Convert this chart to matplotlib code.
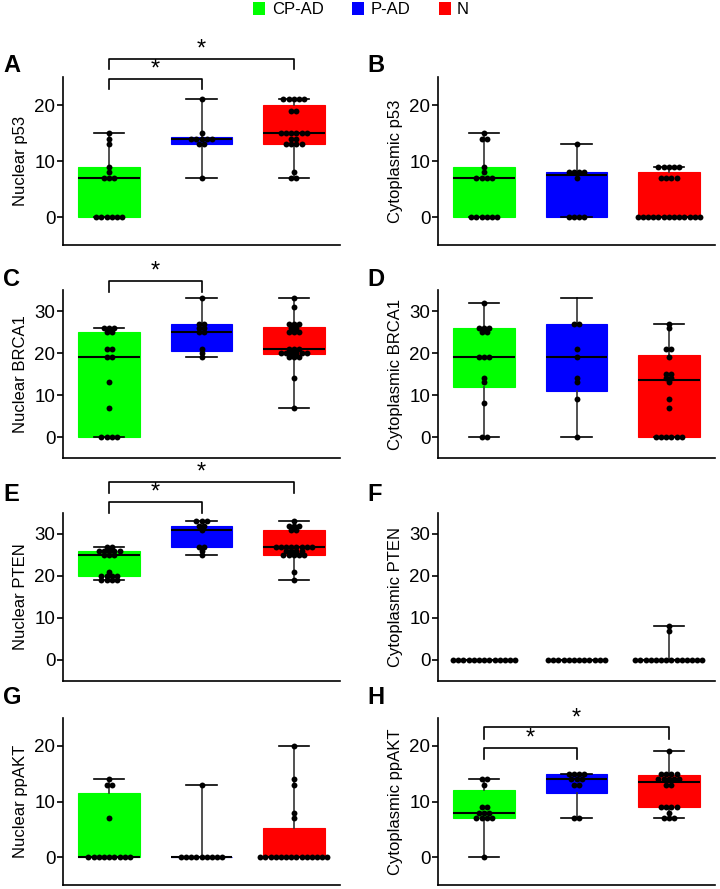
import matplotlib
matplotlib.use("Agg")
import matplotlib.pyplot as plt
from matplotlib.patches import Rectangle
import numpy as np

plt.rcParams['font.family'] = ['Liberation Sans', 'DejaVu Sans']

groups = ["CP-AD", "P-AD", "N"]
colors = ["#00ff00", "#0000ff", "#ff0000"]

# ---- data points per panel (green, blue, red) ----
A_pts = [
    [15, 14, 13, 9, 8, 7, 7, 7, 0, 0, 0, 0, 0, 0],
    [21, 15, 14, 14, 14, 14, 14, 13, 13, 7],
    [21, 21, 21, 21, 21, 19, 19, 15, 15, 15, 15, 15, 15, 14, 14, 13, 13, 13, 13, 8, 7, 7],
]
B_pts = [
    [15, 14, 14, 9, 8, 7, 7, 7, 7, 0, 0, 0, 0, 0, 0],
    [13, 8, 8, 8, 8, 7, 0, 0, 0, 0],
    [9, 9, 9, 9, 9, 7, 7, 7, 7, 0, 0, 0, 0, 0, 0, 0, 0, 0, 0, 0, 0, 0],
]
C_pts = [
    [26, 26, 26, 25, 25, 21, 21, 19, 19, 13, 7, 0, 0, 0, 0],
    [33, 27, 27, 26, 26, 25, 25, 21, 20, 19],
    [33, 31, 27, 27, 27, 26, 26, 25, 25, 25, 21, 21, 21, 20, 20, 20, 20, 20, 20, 19, 19, 19, 14, 7],
]
D_pts = [
    [32, 26, 26, 26, 25, 25, 19, 19, 19, 14, 13, 8, 0, 0],
    [27, 27, 21, 19, 14, 13, 9, 0],
    [27, 26, 21, 21, 19, 15, 15, 14, 14, 13, 9, 7, 0, 0, 0, 0, 0, 0],
]
E_pts = [
    [27, 27, 26, 26, 26, 26, 26, 25, 25, 25, 21, 20, 20, 20, 20, 19, 19, 19, 19],
    [33, 33, 33, 32, 32, 31, 27, 27, 26, 25],
    [33, 32, 32, 32, 31, 31, 27, 27, 27, 27, 27, 27, 27, 27, 26, 26, 26, 26,
     25, 25, 25, 25, 25, 21, 19],
]
F_pts = [
    [0, 0, 0, 0, 0, 0, 0, 0, 0, 0, 0, 0, 0],
    [0, 0, 0, 0, 0, 0, 0, 0, 0, 0, 0, 0],
    [8, 7, 0, 0, 0, 0, 0, 0, 0, 0, 0, 0, 0, 0, 0, 0],
]
G_pts = [
    [14, 13, 13, 7, 0, 0, 0, 0, 0, 0, 0, 0, 0],
    [13, 0, 0, 0, 0, 0, 0, 0, 0, 0],
    [20, 14, 13, 8, 7, 0, 0, 0, 0, 0, 0, 0, 0, 0, 0, 0, 0, 0, 0],
]
H_pts = [
    [14, 14, 13, 9, 9, 8, 8, 8, 7, 7, 7, 7, 0],
    [15, 15, 15, 15, 14, 14, 14, 13, 13, 7, 7],
    [19, 15, 15, 15, 15, 14, 14, 14, 14, 14, 13, 13, 9, 9, 9, 9, 8, 7, 7, 7],
]

# ---- box statistics per panel: (q1, median, q3, min, max) ----
A_box = [(0, 7, 9, 0, 15), (13, 14, 14.25, 7, 21), (13, 15, 20, 7, 21)]
B_box = [(0, 7, 9, 0, 15), (0, 7.5, 8, 0, 13), (0, 0, 8, 0, 9)]
C_box = [(0, 19, 25, 0, 26), (20.5, 25, 27, 19, 33), (19.7, 21, 26.2, 7, 33)]
D_box = [(11.8, 19, 26, 0, 32), (11, 19, 27, 0, 33), (0, 13.5, 19.5, 0, 27)]
E_box = [(20, 25, 26, 19, 27), (27, 31, 32, 25, 33), (25, 27, 31, 19, 33)]
F_box = [(0, 0, 0, 0, 0), (0, 0, 0, 0, 0), (0, 0, 0, 0, 8)]
G_box = [(0, 0, 11.5, 0, 14), (0, 0, 0, 0, 13), (0, 0, 5.2, 0, 20)]
H_box = [(7, 8, 12, 0, 14), (11.5, 14, 15, 7, 15), (9, 13.5, 14.7, 7, 19)]

ylabels = ["Nuclear p53", "Cytoplasmic p53", "Nuclear BRCA1", "Cytoplasmic BRCA1",
           "Nuclear PTEN", "Cytoplasmic PTEN", "Nuclear ppAKT", "Cytoplasmic ppAKT"]
letters = list("ABCDEFGH")
ylims = [(-5, 25), (-5, 25), (-5, 35), (-5, 35), (-5, 35), (-5, 35), (-5, 25), (-5, 25)]
yticks = [[0, 10, 20], [0, 10, 20], [0, 10, 20, 30], [0, 10, 20, 30],
          [0, 10, 20, 30], [0, 10, 20, 30], [0, 10, 20], [0, 10, 20]]
# significance brackets: (left group, right group, bar y, leg bottom y)
brackets = {
    0: [(1, 2, 24.6, 22.9), (1, 3, 28.2, 26.4)],
    2: [(1, 2, 37.2, 34.6)],
    4: [(1, 2, 37.7, 35.1), (1, 3, 42.3, 39.8)],
    7: [(1, 2, 19.6, 17.7), (1, 3, 23.3, 21.3)],
}

all_pts = [A_pts, B_pts, C_pts, D_pts, E_pts, F_pts, G_pts, H_pts]
all_box = [A_box, B_box, C_box, D_box, E_box, F_box, G_box, H_box]

W, H = 720, 889
fig = plt.figure(figsize=(W / 100, H / 100), dpi=100)

col_x = [63, 438]
ax_w = 277
rows = [(77, 245), (290, 458), (513, 681), (718, 885)]


def swarm_offsets(vals, dx):
    vals = np.asarray(vals, dtype=float)
    off = np.zeros(len(vals))
    for v in np.unique(vals):
        idx = np.where(vals == v)[0]
        n = len(idx)
        off[idx] = (np.arange(n) - (n - 1) / 2) * dx
    return off


for i in range(8):
    r, c = divmod(i, 2)
    top, bot = rows[r]
    ax = fig.add_axes([col_x[c] / W, 1 - bot / H, ax_w / W, (bot - top) / H])
    stats = []
    for q1, med, q3, lo, hi in all_box[i]:
        stats.append(dict(q1=q1, med=med, q3=q3, whislo=lo, whishi=hi, fliers=[]))
    bp = ax.bxp(stats, positions=[1, 2, 3], widths=0.67, capwidths=0.33,
                patch_artist=True, showfliers=False,
                boxprops=dict(linewidth=0.8),
                medianprops=dict(color="black", linewidth=1.5),
                whiskerprops=dict(color="#333333", linewidth=1.2),
                capprops=dict(color="black", linewidth=1.2))
    for patch, col in zip(bp["boxes"], colors):
        patch.set_facecolor(col)
        patch.set_edgecolor(col)
    for k, vals in enumerate(all_pts[i]):
        xs = (k + 1) + swarm_offsets(vals, 0.056)
        ax.scatter(xs, vals, s=18, color="black", zorder=5, linewidths=0)
    ax.set_xlim(0.5, 3.5)
    ax.set_ylim(*ylims[i])
    ax.set_yticks(yticks[i])
    ax.set_xticks([])
    for s in ["top", "right"]:
        ax.spines[s].set_visible(False)
    for s in ["left", "bottom"]:
        ax.spines[s].set_linewidth(1.2)
    ax.tick_params(axis="y", labelsize=13.5, length=4, width=1.2, pad=1.5)
    ax.set_ylabel(ylabels[i], fontsize=12)
    ax.yaxis.set_label_coords(-0.125, 0.5)
    for (g1, g2, yb, yl) in brackets.get(i, []):
        ax.plot([g1, g1, g2, g2], [yl, yb, yb, yl], color="black", lw=1.2,
                clip_on=False, zorder=6)
        span = ylims[i][1] - ylims[i][0]
        ax.text((g1 + g2) / 2, yb - span * 0.01, "*", ha="center", va="bottom",
                fontsize=17, clip_on=False)
    lx = 3 if c == 0 else 367
    ly = [65, 280, 495, 697][r]
    fig.text(lx / W, 1 - ly / H, letters[i], fontsize=17, fontweight="bold",
             ha="left", va="center")

# legend
leg_sq = [253, 352, 439]
leg_tx = [272, 371, 457]
for sx, tx, col, name in zip(leg_sq, leg_tx, colors, groups):
    fig.add_artist(Rectangle((sx / W, 1 - 14.5 / H), 12 / W, 12 / H,
                             transform=fig.transFigure, facecolor=col, edgecolor="none"))
    fig.text(tx / W, 1 - 9 / H, name, fontsize=12, ha="left", va="center")

fig.savefig("out.png", dpi=100)
